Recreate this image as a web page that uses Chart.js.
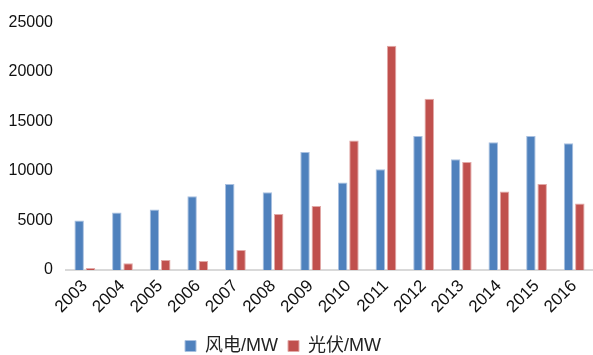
<!DOCTYPE html>
<html>
<head>
<meta charset="utf-8">
<script src="https://cdn.jsdelivr.net/npm/chart.js@4.4.1/dist/chart.umd.min.js"></script>
<style>
  html, body { margin: 0; padding: 0; background: #ffffff; }
  #wrap { width: 593px; height: 355px; position: relative; }
</style>
</head>
<body>
<div id="wrap"><canvas id="c" width="593" height="355"></canvas></div>
<script>
// Annual new installed capacity, wind vs. solar (MW)
const years = ['2003','2004','2005','2006','2007','2008','2009','2010','2011','2012','2013','2014','2015','2016'];
const windMW  = [5000, 5820, 6120, 7460, 8700, 7860, 11920, 8840, 10170, 13550, 11180, 12920, 13550, 12820];
const solarMW = [200, 670, 1000, 900, 2010, 5650, 6460, 13080, 22660, 17300, 10910, 7930, 8700, 6730];
const yTicks = [0, 5000, 10000, 15000, 20000, 25000];

const font = "'Liberation Sans', Arial, sans-serif";

// nudge the bottom legend a little left of the canvas centre
const legendShift = {
  id: 'legendShift',
  afterLayout(chart) {
    const lg = chart.legend;
    if (lg) { lg.left -= 20; lg.right -= 20; }
  }
};

new Chart(document.getElementById('c'), {
  type: 'bar',
  data: {
    labels: years,
    datasets: [
      { label: '风电/MW', data: windMW, backgroundColor: '#4F81BD', borderColor: '#a9c0e0', borderWidth: 1,
        categoryPercentage: 0.6, barPercentage: 0.84 },
      { label: '光伏/MW', data: solarMW, backgroundColor: '#C0504D', borderColor: '#e2a9a7', borderWidth: 1,
        categoryPercentage: 0.6, barPercentage: 0.84 }
    ]
  },
  plugins: [legendShift],
  options: {
    responsive: false,
    animation: false,
    devicePixelRatio: 1,
    layout: { padding: { top: 9.4, right: -4, left: 9, bottom: -10 } },
    plugins: {
      legend: {
        position: 'bottom',
        labels: {
          font: { family: "'Liberation Sans', 'Noto Sans CJK SC', sans-serif", size: 18, lineHeight: 1 },
          color: '#222',
          boxWidth: 11, boxHeight: 11, padding: 10
        }
      },
      tooltip: { enabled: false }
    },
    scales: {
      x: {
        grid: { display: false, drawTicks: false },
        border: { display: true, color: '#d9d9d9', width: 2 },
        ticks: { color: '#111', font: { family: font, size: 17 }, maxRotation: 45, minRotation: 45, padding: 6 },
        // rotated year labels may spill past the plot edges; keep the plot width fixed
        afterFit: (axis) => { axis.paddingLeft = 0; axis.paddingRight = 0; axis.height = 57; }
      },
      y: {
        min: 0, max: 25000,
        afterBuildTicks: (axis) => { axis.ticks = yTicks.map(v => ({ value: v })); },
        afterFit: (axis) => { axis.width = 57; },
        grid: { display: false, drawTicks: false },
        border: { display: false },
        ticks: { color: '#111', font: { family: font, size: 16 }, padding: 13,
                 callback: (v) => String(v) }
      }
    }
  }
});
</script>
</body>
</html>
